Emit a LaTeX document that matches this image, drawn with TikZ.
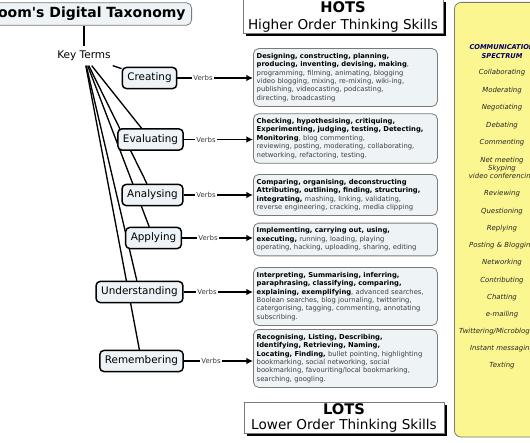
\documentclass[tikz,border=0pt]{standalone}
\usepackage{fontspec}
\setmainfont{DejaVu Sans}
\usepackage{xcolor}
\usepackage{tikz}
\usetikzlibrary{arrows.meta, backgrounds, shadows}
\definecolor{levelfill}{HTML}{EDF3F6}
\definecolor{verbfill}{HTML}{EEF3F6}
\definecolor{boxline}{HTML}{7A7A7A}
\definecolor{specfill}{HTML}{FBF68F}
\definecolor{specblue}{HTML}{00005E}
\definecolor{verbgray}{HTML}{3C3C3C}
\newcommand{\boldverb}[1]{\textcolor{black}{\bfseries #1}}

\begin{document}
\begin{tikzpicture}[x=0.75pt,y=-0.75pt,
                    level node/.style={rectangle,rounded corners=3pt,draw,line width=1.1pt,fill=levelfill,font=\fontsize{7.8}{9}\selectfont,inner xsep=3.8pt,minimum height=15.8pt},
                    verb label/.style={font=\fontsize{5.2}{6}\selectfont,text=verbgray,inner sep=1pt},
                    verb box/.style={rectangle,rounded corners=4pt,draw=boxline,line width=0.6pt,fill=verbfill,anchor=west,text width=133pt,align=left,inner xsep=2.5pt,inner ysep=3.5pt,font=\fontsize{5.1}{6.3}\selectfont,text=verbgray},
                    skill box/.style={rectangle,draw=boxline,line width=0.6pt,fill=white,minimum width=150pt,align=center,drop shadow={shadow xshift=2pt,shadow yshift=-2pt,fill=black,opacity=1}},
                    spec item/.style={font=\fontsize{5.2}{6}\selectfont\itshape,text=black!85,align=center,inner sep=1pt},
                    link/.style={line width=1pt},
                    verb arrow/.style={line width=1pt,-{Latex[length=5pt,width=5pt]}}]

\useasboundingbox (0,0) rectangle (530,442);
\clip (0,0) rectangle (530,442);

%DRAWING Title and key terms

  \node[rectangle,rounded corners=4pt,draw=boxline,line width=0.6pt,fill=levelfill,font=\fontsize{10.5}{12}\selectfont\bfseries,anchor=east,inner xsep=4.5pt,minimum height=16.5pt] (Title) at (192,14) {Bloom\textquotesingle s Digital Taxonomy};
  \node[font=\fontsize{7.9}{9}\selectfont] (KeyTerms) at (84,56) {Key Terms};
  \draw[link] (KeyTerms |- Title.south) -- (KeyTerms);

%Inserting levels

  \node[level node] (Creating) at (149.5,78) {Creating};
  \node[level node] (Evaluating) at (150.5,139.5) {Evaluating};
  \node[level node] (Analysing) at (152.5,195) {Analysing};
  \node[level node] (Applying) at (153.5,238) {Applying};
  \node[level node] (Understanding) at (139.5,292) {Understanding};
  \node[level node] (Remembering) at (141.5,361) {Remembering};

  \node[verb label] (VerbsC) at (203,78) {Verbs};
  \node[verb label] (VerbsE) at (206,139.5) {Verbs};
  \node[verb label] (VerbsAn) at (206,195) {Verbs};
  \node[verb label] (VerbsAp) at (208,238) {Verbs};
  \node[verb label] (VerbsU) at (207,292) {Verbs};
  \node[verb label] (VerbsR) at (211,361) {Verbs};

%Inserting verb boxes

  \node[verb box] (BoxC) at (253,77.5) {\boldverb{Designing, constructing, planning,}\\
    \boldverb{producing, inventing, devising, making},\\
    programming, filming, animating, blogging\\
    video blogging, mixing, re-mixing, wiki-ing,\\
    publishing, videocasting, podcasting,\\
    directing, broadcasting};

  \node[verb box] (BoxE) at (253,138.5) {\boldverb{Checking, hypothesising, critiquing,}\\
    \boldverb{Experimenting, judging, testing, Detecting,}\\
    \boldverb{Monitoring}, blog commenting,\\
    reviewing, posting, moderating, collaborating,\\
    networking, refactoring, testing.};

  \node[verb box] (BoxAn) at (253,195) {\boldverb{Comparing, organising, deconstructing}\\
    \boldverb{Attributing, outlining, finding, structuring,}\\
    \boldverb{integrating,} mashing, linking, validating,\\
    reverse engineering, cracking, media clipping};

  \node[verb box] (BoxAp) at (253,239.5) {\boldverb{Implementing, carrying out, using,}\\
    \boldverb{executing,} running, loading, playing\\
    operating, hacking, uploading, sharing, editing};

  \node[verb box] (BoxU) at (253,296.5) {\boldverb{Interpreting, Summarising, inferring,}\\
    \boldverb{paraphrasing, classifying, comparing,}\\
    \boldverb{explaining, exemplifying}, advanced searches,\\
    Boolean searches, blog journaling, twittering,\\
    catergorising, tagging, commenting, annotating\\
    subscribing.};

  \node[verb box] (BoxR) at (253,358.5) {\boldverb{Recognising, Listing, Describing,}\\
    \boldverb{Identifying, Retrieving, Naming,}\\
    \boldverb{Locating, Finding,} bullet pointing, highlighting\\
    bookmarking, social networking, social\\
    bookmarking, favouriting/local bookmarking,\\
    searching, googling.};

%Connecting

  \begin{scope}[on background layer]
  \foreach \lvl in {Creating,Evaluating,Analysing,Applying,Understanding,Remembering}
   \draw[link] (KeyTerms) -- (\lvl);
  \end{scope}

  \foreach \lvl/\verbs/\target in {Creating/VerbsC/BoxC,Evaluating/VerbsE/BoxE,Analysing/VerbsAn/BoxAn,Applying/VerbsAp/BoxAp,Understanding/VerbsU/BoxU,Remembering/VerbsR/BoxR}
  {\draw[link] (\lvl) -- (\verbs);
   \draw[verb arrow] (\verbs) -- (\verbs -| \target.west);}

%HOTS and LOTS

  \node[skill box,minimum height=25.5pt,inner ysep=1pt,font=\fontsize{10.2}{12.75}\selectfont] (HOTS) at (343,16.5) {{\fontsize{11}{12.75}\selectfont\bfseries HOTS}\\Higher Order Thinking Skills};
  \node[skill box,minimum height=21pt,inner ysep=1pt,font=\fontsize{10.2}{11.25}\selectfont] (LOTS) at (344,418) {{\fontsize{11}{11.25}\selectfont\bfseries LOTS}\\Lower Order Thinking Skills};

%Communication spectrum

  \node[rectangle,rounded corners=5pt,draw=boxline,line width=0.6pt,fill=specfill,anchor=north west,minimum width=80pt,minimum height=326pt] (Spectrum) at (454,2) {};
  \node[font=\fontsize{5}{6.75}\selectfont\bfseries\itshape,text=specblue,align=center,inner sep=1pt] (SpecTitle) at (502,51.5) {COMMUNICATION\\SPECTRUM};

  \foreach \y/\word in {73/Collaborating,91/Moderating,108/Negotiating,126/Debating,143/Commenting,169/{Net meeting\\Skyping\\video conferencing},194/Reviewing,212/Questioning,229/Replying,246/{Posting \& Blogging},263/Networking,281/Contributing,298/Chatting,315/e-mailing,332/{Twittering/Microblogging},349/{Instant messaging},366/Texting}
   \node[spec item] (Spec\y) at (502,\y) {\word};

\end{tikzpicture}
\end{document}
